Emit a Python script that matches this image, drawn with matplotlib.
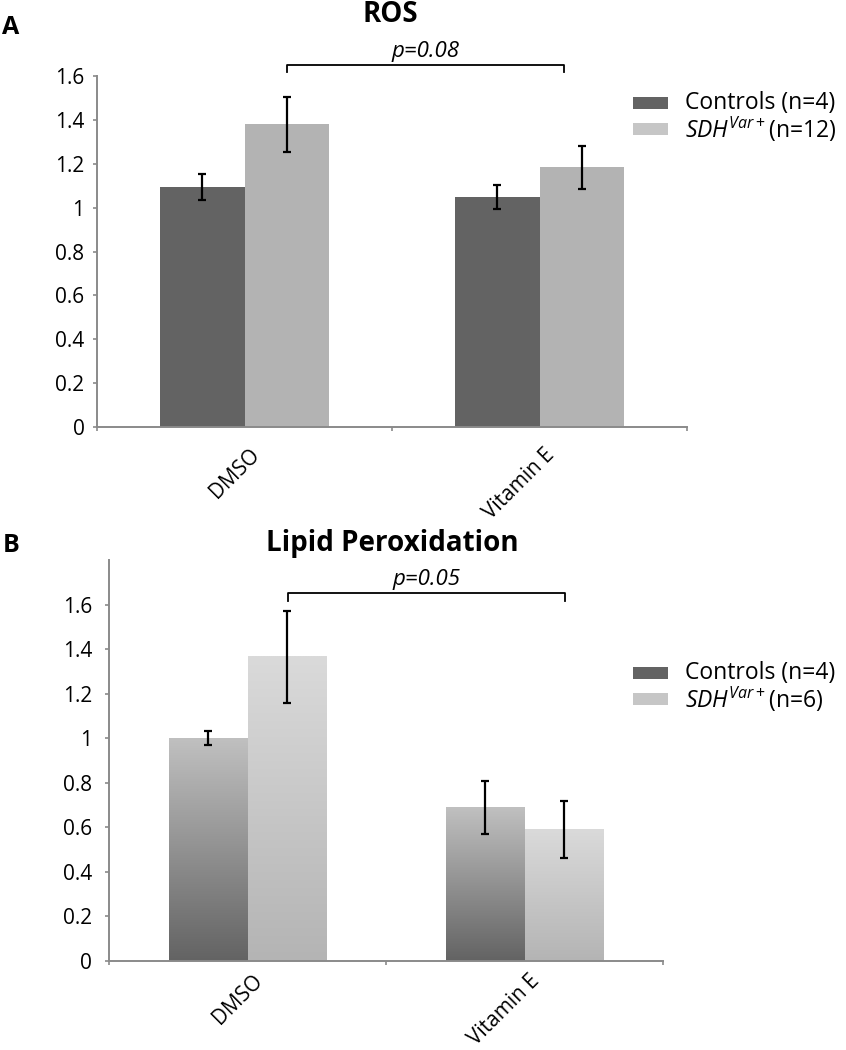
import numpy as np
import matplotlib
matplotlib.use("Agg")
import matplotlib.pyplot as plt
from matplotlib.patches import Rectangle
from matplotlib.colors import LinearSegmentedColormap
from matplotlib.ticker import FormatStrFormatter
import matplotlib.transforms as mtransforms

plt.rcParams['font.family'] = ['Open Sans', 'DejaVu Sans']
plt.rcParams['mathtext.fontset'] = 'custom'
plt.rcParams['mathtext.it'] = 'Open Sans:italic'
plt.rcParams['mathtext.rm'] = 'Open Sans'

# values
groups = ['DMSO', 'Vitamin E']

ros_ctrl = [1.095, 1.05]
ros_ctrl_err = [0.06, 0.055]
ros_sdh = [1.38, 1.185]
ros_sdh_err = [0.125, 0.098]

lipid_ctrl = [1.00, 0.69]
lipid_ctrl_err = [0.032, 0.118]
lipid_sdh = [1.365, 0.59]
lipid_sdh_err = [0.205, 0.128]

ros_labels = ['Controls (n=4)', r'$\mathit{SDH}^{\mathit{Var+}}$(n=12)']
lipid_labels = ['Controls (n=4)', r'$\mathit{SDH}^{\mathit{Var+}}$(n=6)']

W, H = 846, 1050
AXIS_GRAY = '#8a8a8a'
BAR_W = 0.285


def fx(x):
    return x / W


def fy(y):
    return 1 - y / H


def style_axes(ax, ymax, ylab_pad, xlab_pad):
    ax.set_xlim(0, 2)
    ax.set_ylim(0, ymax)
    for s in ['top', 'right']:
        ax.spines[s].set_visible(False)
    for s in ['left', 'bottom']:
        ax.spines[s].set_color(AXIS_GRAY)
        ax.spines[s].set_linewidth(1.4)
    ax.set_yticks(np.arange(0, 1.61, 0.2))
    ax.yaxis.set_major_formatter(FormatStrFormatter('%g'))
    ax.set_xticks([0, 1, 2])
    ax.set_xticklabels([])
    ax.set_xticks([0.5, 1.5], minor=True)
    ax.set_xticklabels(groups, minor=True, rotation=45, ha='right',
                       va='center', rotation_mode='anchor', fontsize=15)
    ax.tick_params(axis='y', direction='out', length=3, width=1.2,
                   color=AXIS_GRAY, labelsize=15, pad=ylab_pad)
    ax.tick_params(axis='x', which='major', direction='out', length=3,
                   width=1.2, color=AXIS_GRAY)
    ax.tick_params(axis='x', which='minor', length=0, pad=xlab_pad)
    shift = mtransforms.ScaledTranslation(12 / 100, 0, ax.figure.dpi_scale_trans)
    for lab in ax.get_xticklabels(minor=True):
        lab.set_transform(lab.get_transform() + shift)


def errbars(ax, x, y, e):
    ax.errorbar(x, y, yerr=e, fmt='none', ecolor='black', elinewidth=1.6,
                capsize=3, capthick=1.6, zorder=5)


def gradient_bars(ax, xs, heights, bottom_col, top_col):
    cmap = LinearSegmentedColormap.from_list('g', [bottom_col, top_col])
    grad = np.linspace(0, 1, 256).reshape(-1, 1)
    for x, h in zip(xs, heights):
        ax.imshow(grad, extent=[x - BAR_W / 2, x + BAR_W / 2, 0, h],
                  origin='lower', aspect='auto', cmap=cmap, zorder=2,
                  interpolation='bilinear')


def bracket(ax, x0, x1, text):
    ax.plot([x0, x0, x1, x1], [1.618, 1.65, 1.65, 1.618], color='black',
            lw=1.3, clip_on=False, zorder=6)
    ax.text((x0 + x1) / 2, 1.712, text, ha='center', va='center',
            fontsize=16, style='italic')


def legend(fig, y0, labels, colors):
    for i, (lab, col) in enumerate(zip(labels, colors)):
        yc = y0 + 26 * i
        fig.patches.append(Rectangle((fx(633), fy(yc + 6)), 35 / W, 12 / H,
                                     transform=fig.transFigure,
                                     facecolor=col, edgecolor='none'))
        fig.text(fx(685), fy(yc), lab, ha='left', va='center', fontsize=16.5)


fig = plt.figure(figsize=(W / 100, H / 100), dpi=100)

x = np.arange(len(groups)) + 0.5
xc = x - BAR_W / 2
xs = x + BAR_W / 2

# panel A
ax1 = fig.add_axes([fx(97), fy(427), 590 / W, 351 / H])
ax1.bar(xc, ros_ctrl, BAR_W, color='#636363', zorder=2)
ax1.bar(xs, ros_sdh, BAR_W, color='#b3b3b3', zorder=2)
errbars(ax1, xc, ros_ctrl, ros_ctrl_err)
errbars(ax1, xs, ros_sdh, ros_sdh_err)
style_axes(ax1, 1.6, 6, 18)
bracket(ax1, 0.645, 1.583, 'p=0.08')
fig.text(fx(390), fy(15), 'ROS', ha='center', va='center',
         fontsize=20, fontweight='bold')
fig.text(fx(11), fy(28), 'A', ha='center', va='center',
         fontsize=18, fontweight='bold')
legend(fig, 103, ros_labels, ['#636363', '#c6c6c6'])

# panel B
ax2 = fig.add_axes([fx(109), fy(961), 554 / W, 401 / H])
gradient_bars(ax2, xc, lipid_ctrl, '#636363', '#c0c0c0')
gradient_bars(ax2, xs, lipid_sdh, '#b4b4b4', '#dadada')
errbars(ax2, xc, lipid_ctrl, lipid_ctrl_err)
errbars(ax2, xs, lipid_sdh, lipid_sdh_err)
style_axes(ax2, 1.8, 9, 12)
bracket(ax2, 0.645, 1.645, 'p=0.05')
fig.text(fx(392), fy(543), 'Lipid Peroxidation', ha='center', va='center',
         fontsize=20, fontweight='bold')
fig.text(fx(11), fy(545), 'B', ha='center', va='center',
         fontsize=18, fontweight='bold')
legend(fig, 673, lipid_labels, ['#636363', '#c6c6c6'])

fig.savefig('out.png', dpi=100)
